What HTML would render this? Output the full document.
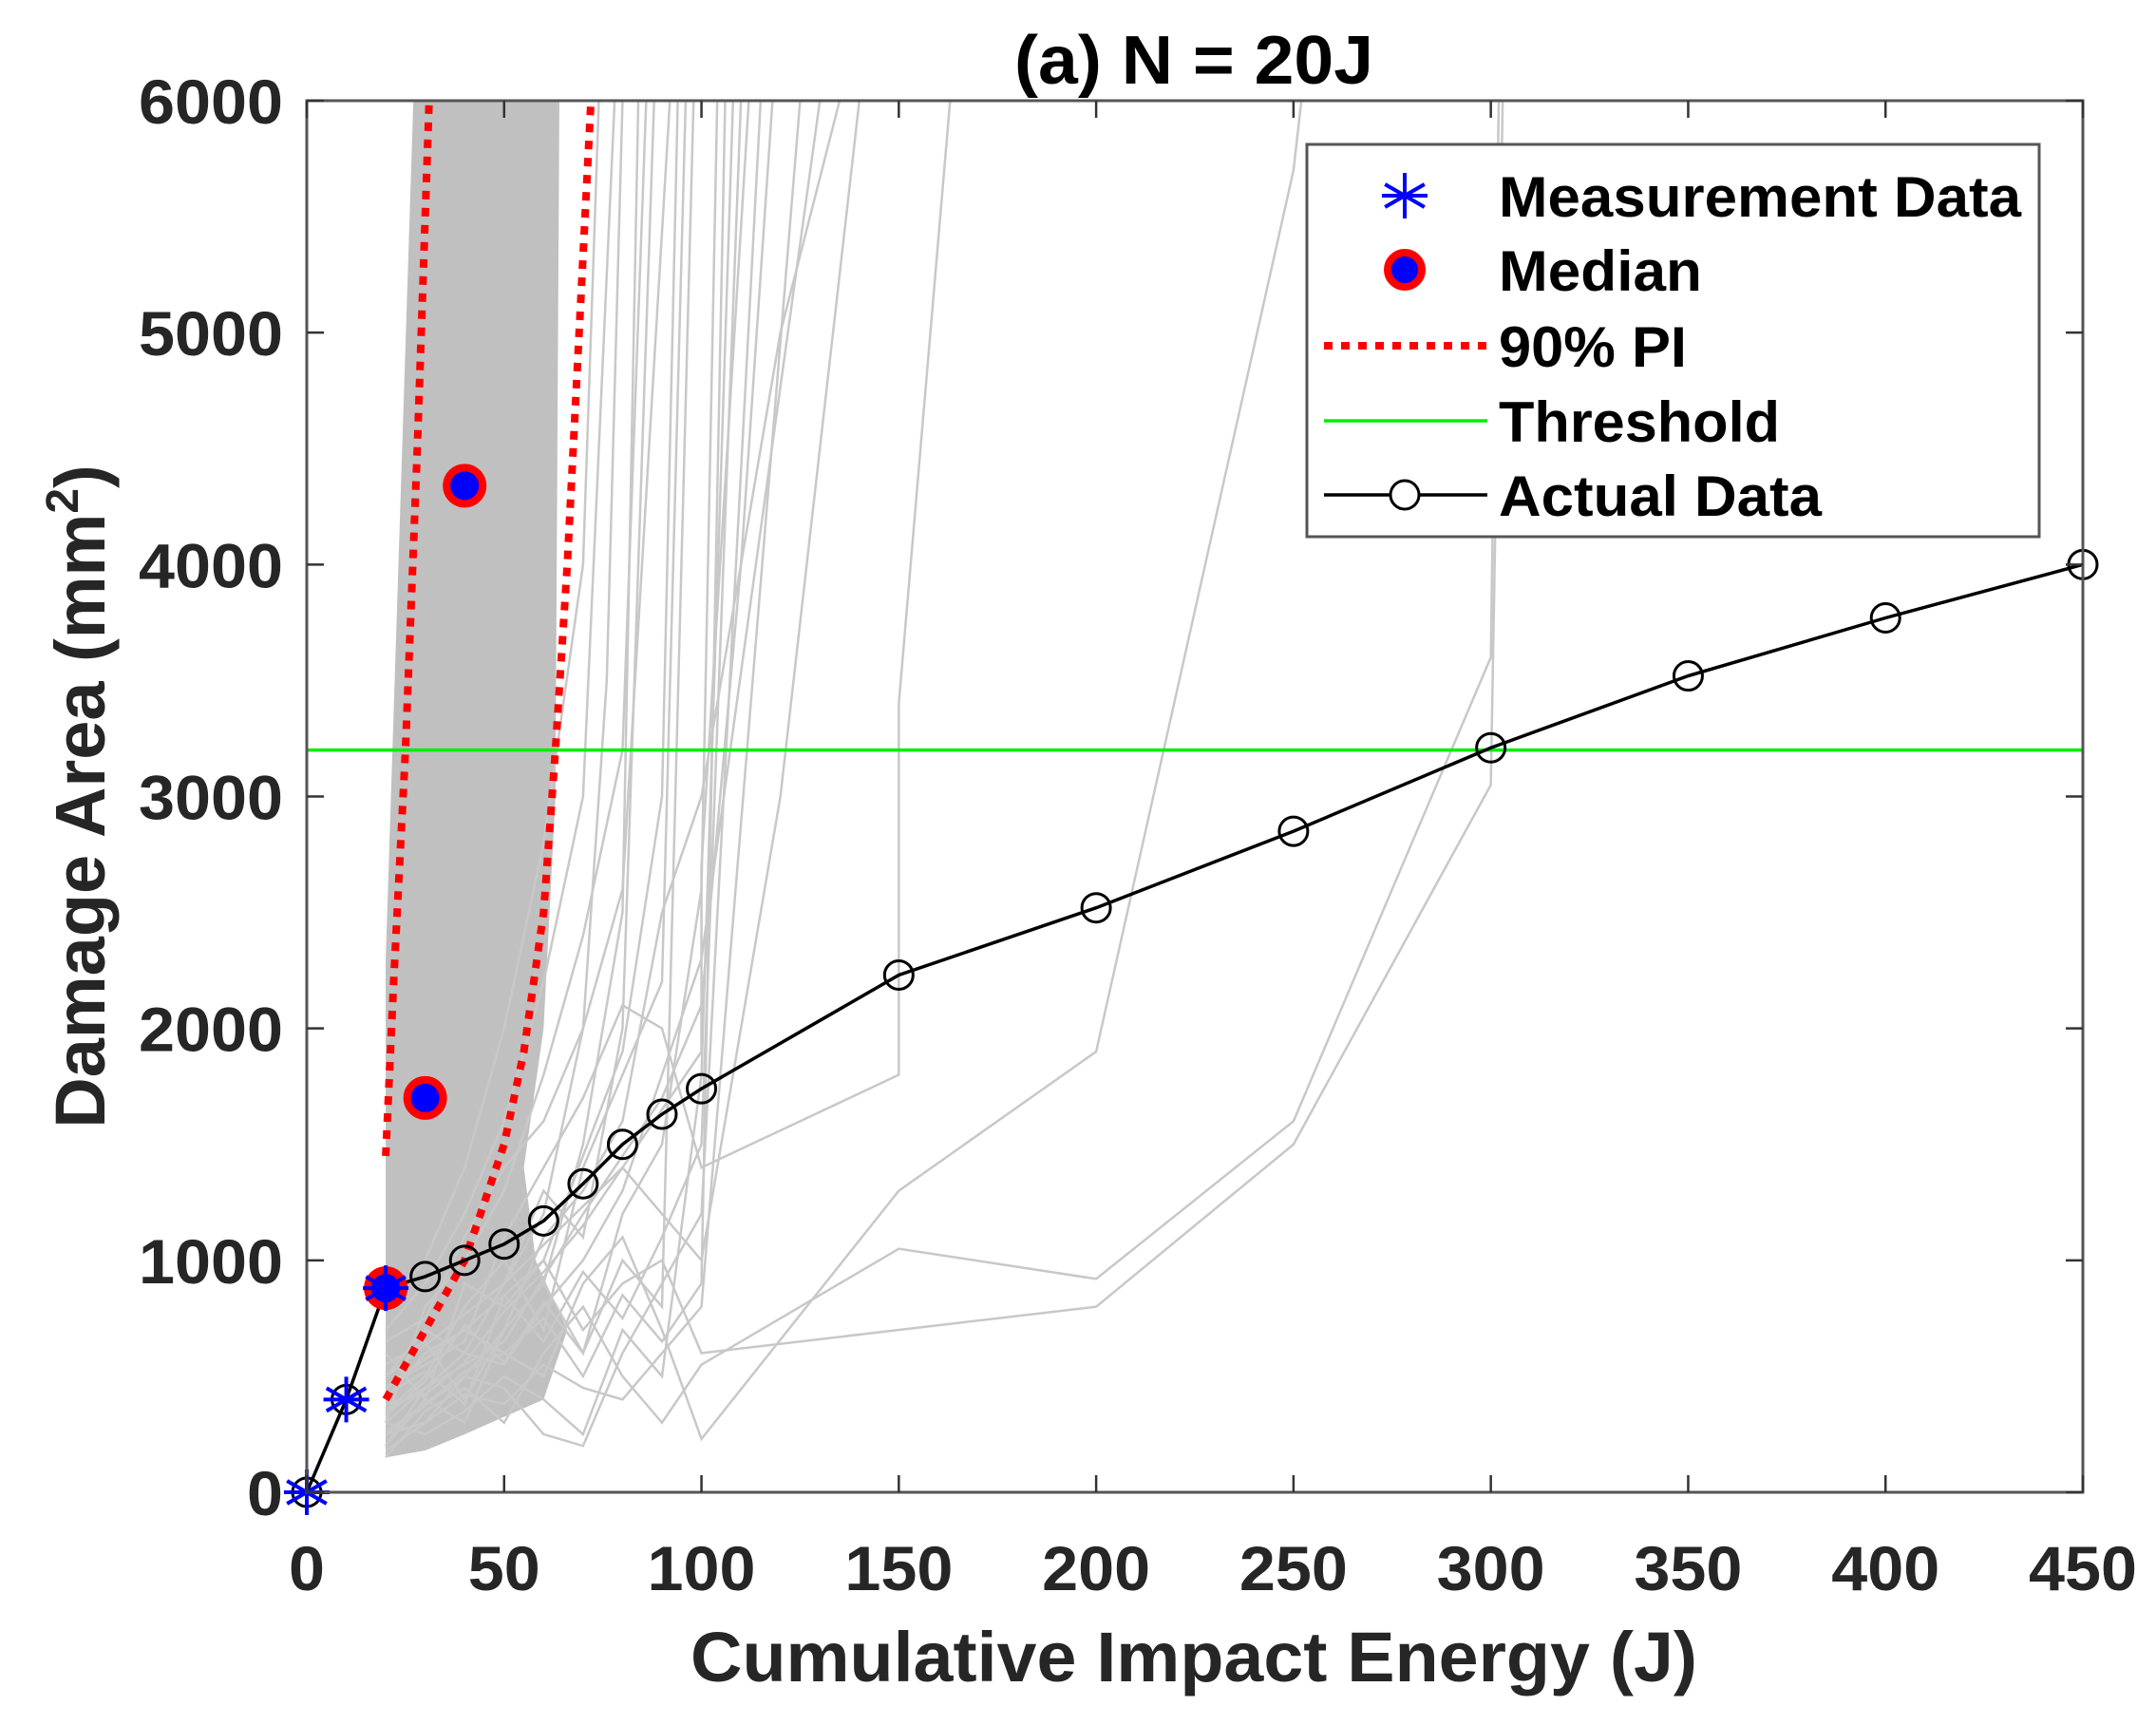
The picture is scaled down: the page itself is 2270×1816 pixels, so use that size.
<!DOCTYPE html>
<html><head><meta charset="utf-8"><style>
html,body{margin:0;padding:0;background:#fff;}
svg{display:block;font-family:"Liberation Sans",Arial,sans-serif;}
</style></head><body>
<svg id="chart" width="2270" height="1816" viewBox="0 0 2270 1816" xmlns="http://www.w3.org/2000/svg">
<rect width="2270" height="1816" fill="#fff"/>
<g id="plot"></g>
</svg>
<script>
const xTicks=[0,50,100,150,200,250,300,350,400,450];
const yTicks=[0,1000,2000,3000,4000,5000,6000];
const actualX=[0,10,20,30,40,50,60,70,80,90,100,150,200,250,300,350,400,450];
const actualY=[0,400,880,930,1000,1070,1170,1330,1500,1630,1740,2230,2520,2850,3210,3520,3770,4000];
const measX=[0,10,20];
const measY=[0,400,880];
const medianX=[20,30,40];
const medianY=[880,1700,4340];
const piLowX=[20,30,40,50,55,60,63,66,69,72];
const piLowY=[400,700,1000,1500,1900,2500,3200,4000,5000,6000];
const piUpX=[20,22,25,28,31];
const piUpY=[1450,2200,3200,4500,6000];
const threshold=3200;
const bandX=[20,20,27,64,63,60,55,58,66,60,40,30];
const bandY=[150,2300,6000,6000,3000,2000,1400,1000,700,400,250,180];
const greyLines=[
 [[20,300],[30,250],[40,350],[50,500],[60,400],[70,250],[80,700],[90,500],[100,1800],[108,6000]],
 [[20,200],[30,400],[40,300],[50,700],[60,900],[70,600],[80,1200],[90,1500],[100,2600],[104,6000]],
 [[20,500],[30,700],[40,600],[50,900],[60,1300],[70,1100],[80,2000],[88,6000]],
 [[20,250],[30,300],[40,500],[50,450],[60,250],[70,200],[80,600],[90,900],[100,1200],[115,6000]],
 [[20,700],[30,900],[40,1200],[50,1600],[60,2200],[70,3000],[78,6000]],
 [[20,350],[30,500],[40,800],[50,1000],[60,700],[70,1400],[80,1800],[90,2200],[96,6000]],
 [[20,150],[30,350],[40,450],[50,300],[60,600],[70,800],[80,500],[90,300],[100,550],[150,1050],[200,920],[250,1600],[300,3600],[302,6000]],
 [[20,400],[30,600],[40,700],[50,600],[60,500],[70,900],[80,1100],[90,700],[100,230],[150,1300],[200,1900],[250,5700],[252,6000]],
 [[20,600],[30,400],[40,900],[50,800],[60,1000],[70,700],[80,900],[90,1000],[100,600],[200,800],[250,1500],[300,3050],[303,6000]],
 [[20,450],[30,550],[40,650],[50,1100],[60,1400],[70,1700],[80,2100],[90,2000],[100,1400],[150,1800],[150,3400],[163,6000]],
 [[20,300],[30,800],[40,1000],[50,1300],[60,1800],[70,2400],[80,3200],[86,6000]],
 [[20,550],[30,650],[40,400],[50,700],[60,1100],[70,1300],[80,1600],[90,2500],[100,3000],[120,5000],[135,6000]],
 [[20,200],[30,450],[40,600],[50,550],[60,800],[70,1000],[80,1300],[90,1800],[100,2300],[130,6000]],
 [[20,650],[30,750],[40,1100],[50,1400],[60,1600],[70,2000],[80,2600],[92,6000]],
 [[20,380],[30,420],[40,560],[50,780],[60,950],[70,1150],[80,1400],[90,1200],[100,1000],[120,3000],[140,6000]],
 [[20,800],[30,1000],[40,1400],[50,2000],[60,2800],[70,4000],[74,6000]],
 [[20,250],[40,500],[60,900],[70,1500],[80,2500],[84,6000]],
 [[20,300],[40,600],[60,1200],[70,2000],[76,3500],[80,6000]],
 [[20,450],[40,700],[60,1000],[80,1900],[90,3000],[94,6000]],
 [[20,350],[50,650],[70,1200],[90,1700],[100,2100],[110,4000],[118,6000]],
 [[20,500],[50,900],[80,1400],[100,1900],[100,2700],[112,6000]],
 [[20,260],[30,380],[40,520],[50,600],[60,750],[70,500],[80,850],[90,650],[100,900],[106,6000]],
 [[20,420],[30,520],[40,380],[50,850],[60,650],[70,950],[80,750],[90,1100],[100,1500],[110,6000]],
 [[20,330],[30,480],[40,720],[50,560],[60,820],[70,600],[80,1000],[90,800],[98,6000]],
 [[20,180],[30,300],[40,420],[50,380],[60,550],[70,450],[80,400],[90,600],[100,800],[125,6000]]
];
const L=323,R=2193,T=106,B=1571;
const sx=v=>L+(v-0)/(450-0)*(R-L);
const sy=v=>B-(v-0)/(6000-0)*(B-T);
const NS="http://www.w3.org/2000/svg";
const g=document.getElementById('plot');
function mk(tag,attrs,parent){const e=document.createElementNS(NS,tag);for(const k in attrs)e.setAttribute(k,attrs[k]);(parent||g).appendChild(e);return e;}
const clip=mk('clipPath',{id:'pc'});mk('rect',{x:L,y:T,width:R-L,height:B-T},clip);
const data=mk('g',{'clip-path':'url(#pc)'});
const band=mk('polygon',{points:bandX.map((x,i)=>sx(x)+','+sy(bandY[i])).join(' '),fill:'#c0c0c0'},data);


greyLines.forEach((ln,i)=>{
 const p=mk('polyline',{points:ln.map(q=>sx(q[0])+','+sy(q[1])).join(' '),fill:'none',stroke:'#c8c8c8','stroke-width':2.5},data);
 
 
});
const th=mk('line',{x1:L,x2:R,y1:sy(threshold),y2:sy(threshold),stroke:'#00ee00','stroke-width':3.5},data);


[[piLowX,piLowY,'pi-lower-line'],[piUpX,piUpY,'pi-upper-line']].forEach(a=>{
 const p=mk('polyline',{points:a[0].map((x,i)=>sx(x)+','+sy(a[1][i])).join(' '),fill:'none',stroke:'#ff0000','stroke-width':8,'stroke-dasharray':'9,9'},data);
 
 
});
const al=mk('polyline',{points:actualX.map((x,i)=>sx(x)+','+sy(actualY[i])).join(' '),fill:'none',stroke:'#000','stroke-width':3.5});


actualX.forEach((x,i)=>{
 const c=mk('circle',{cx:sx(x),cy:sy(actualY[i]),r:15,fill:'none',stroke:'#000','stroke-width':3});
 
 
});
function star(cx,cy,r,parent,name){
 const s=mk('g',{stroke:'#0000ff','stroke-width':4},parent);
 
 
 [0,60,120].forEach(a=>{const t=a*Math.PI/180;mk('line',{x1:cx-r*Math.sin(t),y1:cy-r*Math.cos(t),x2:cx+r*Math.sin(t),y2:cy+r*Math.cos(t)},s);});
 mk('line',{x1:cx-r,y1:cy,x2:cx+r,y2:cy},s);
}
medianX.forEach((x,i)=>{
 const c=mk('circle',{cx:sx(x),cy:sy(medianY[i]),r:19,fill:'#0000ff',stroke:'#ff0000','stroke-width':8});
 
 
});
measX.forEach((x,i)=>star(sx(x),sy(measY[i]),24,g,'measurement-point'));
const box=mk('rect',{x:L,y:T,width:R-L,height:B-T,fill:'none',stroke:'#555','stroke-width':3});


xTicks.forEach(v=>{
 mk('line',{x1:sx(v),x2:sx(v),y1:B,y2:B-18,stroke:'#333','stroke-width':2.5});
 mk('line',{x1:sx(v),x2:sx(v),y1:T,y2:T+18,stroke:'#333','stroke-width':2.5});
 const t=mk('text',{x:sx(v),y:1674,'text-anchor':'middle','font-size':66,'font-weight':'bold',fill:'#262626',textLength:String(v).length*38,lengthAdjust:'spacingAndGlyphs'});
 t.textContent=v;
 
 
});
yTicks.forEach(v=>{
 mk('line',{x1:L,x2:L+18,y1:sy(v),y2:sy(v),stroke:'#333','stroke-width':2.5});
 mk('line',{x1:R,x2:R-18,y1:sy(v),y2:sy(v),stroke:'#333','stroke-width':2.5});
 const t=mk('text',{x:298,y:sy(v)+24,'text-anchor':'end','font-size':66,'font-weight':'bold',fill:'#262626',textLength:String(v).length*38,lengthAdjust:'spacingAndGlyphs'});
 t.textContent=v;
 
 
});
const lg=mk('g',{});


mk('rect',{x:1376,y:152,width:771,height:413,fill:'#fff',stroke:'#555','stroke-width':3},lg);
const ly=[206,284,364,443,521];
const labels=['Measurement Data','Median','90% PI','Threshold','Actual Data'];
const lw=[550,214,198,296,340];
labels.forEach((s,i)=>{
 const t=mk('text',{x:1578,y:ly[i]+22,'font-size':60,'font-weight':'bold',fill:'#000',textLength:lw[i],lengthAdjust:'spacingAndGlyphs'},lg);
 t.textContent=s;
 
 
});
star(1479,ly[0],24,lg,'legend-star');
mk('circle',{cx:1479,cy:ly[1],r:18,fill:'#0000ff',stroke:'#ff0000','stroke-width':8},lg);
mk('line',{x1:1394,x2:1566,y1:ly[2],y2:ly[2],stroke:'#ff0000','stroke-width':8,'stroke-dasharray':'9,9'},lg);
mk('line',{x1:1394,x2:1566,y1:ly[3],y2:ly[3],stroke:'#00ee00','stroke-width':3.5},lg);
mk('line',{x1:1394,x2:1566,y1:ly[4],y2:ly[4],stroke:'#000','stroke-width':3.5},lg);
mk('circle',{cx:1479,cy:ly[4],r:15,fill:'#fff',stroke:'#000','stroke-width':3},lg);
const tt=mk('text',{x:1257,y:88,'text-anchor':'middle','font-size':72,'font-weight':'bold',fill:'#000',textLength:378,lengthAdjust:'spacingAndGlyphs'});
tt.textContent='(a) N = 20J';


const xt=mk('text',{x:1257,y:1770,'text-anchor':'middle','font-size':74,'font-weight':'bold',fill:'#262626',textLength:1060,lengthAdjust:'spacingAndGlyphs'});
xt.textContent='Cumulative Impact Energy (J)';


const yt=mk('text',{x:0,y:0,'text-anchor':'middle','font-size':74,'font-weight':'bold',fill:'#262626',transform:'translate(110,'+((T+B)/2)+') rotate(-90)'});
yt.innerHTML='Damage Area (mm<tspan dy="-28" font-size="48">2</tspan><tspan dy="28">)</tspan>';


</script>
</body></html>
